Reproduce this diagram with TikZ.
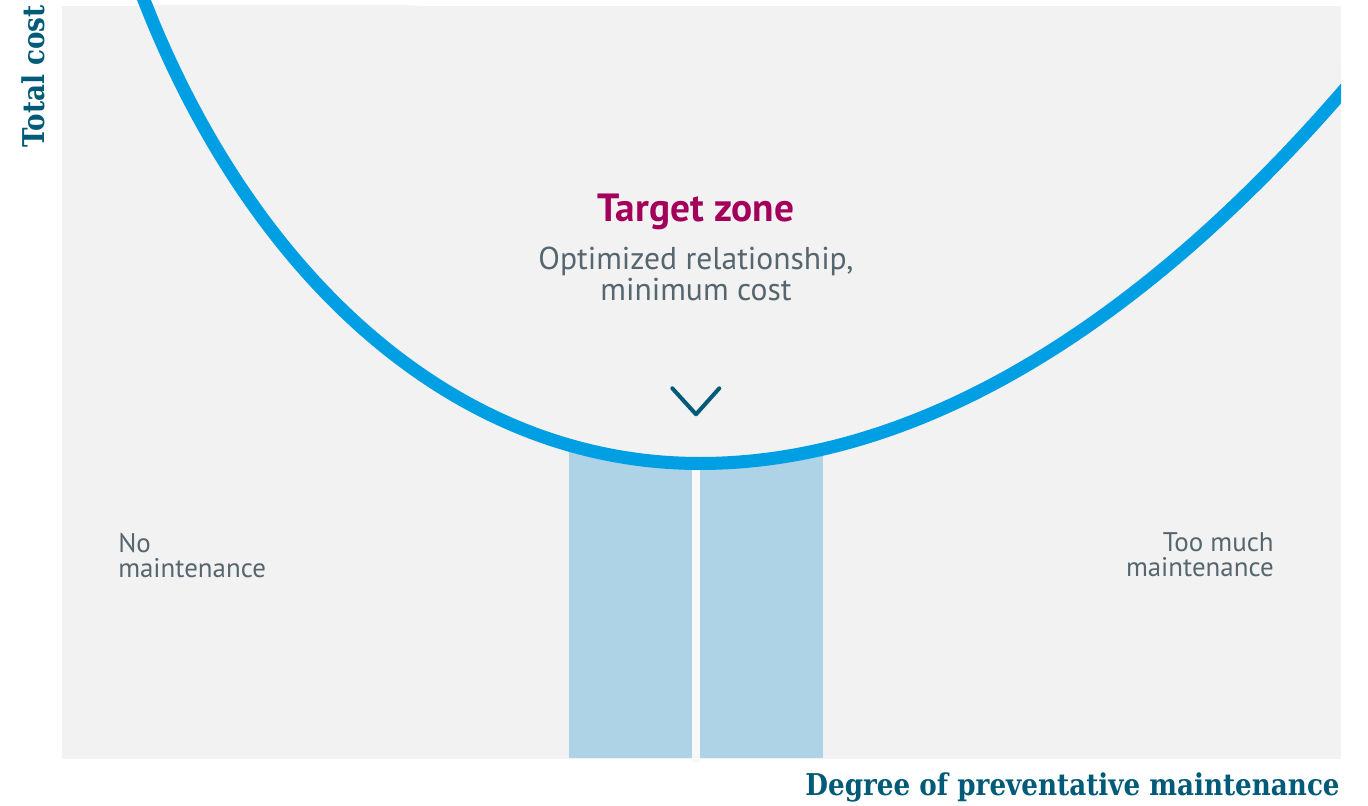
\documentclass[tikz,border=0pt]{standalone}
\usepackage{fontspec}
\setmainfont{PT Sans}
\newfontfamily\slabfont[FakeStretch=0.874]{DejaVu Serif}
\usetikzlibrary{positioning}
\definecolor{curveblue}{HTML}{009FE3}
\definecolor{zoneblue}{HTML}{AED3E6}
\definecolor{panelgray}{HTML}{F2F2F2}
\definecolor{splitgray}{HTML}{F8F8F8}
\definecolor{axisteal}{HTML}{005A78}
\definecolor{textgray}{HTML}{56666F}
\definecolor{targetred}{HTML}{A3005B}

\begin{document}
\begin{tikzpicture}[x=0.75pt, y=-0.75pt, % 1 unit = 1 pixel of the original
  axislabel/.style={font=\slabfont\bfseries\fontsize{22.5}{27}\selectfont, text=axisteal, inner sep=0pt},
  note/.style={font=\fontsize{20.2}{18.8}\selectfont, text=textgray, inner sep=0pt},
  costline/.style={draw=curveblue, line width=9.75pt},
  zonebar/.style={fill=zoneblue}]

\useasboundingbox (0,0) rectangle (1368,806);
\clip (0,0) rectangle (1341,806);

% panel and target zone bars
\fill[panelgray] (62,6) rectangle (1341,759);
\fill[zonebar] (568.7,420) rectangle (692,757.7);
\fill[zonebar] (700,420) rectangle (823,757.7);
\fill[splitgray] (692,460) rectangle (700,763);

% total cost curve
\path[save path=\costpath] (140.1,-10) -- (144,0)
  .. controls (249.3,270) and (450,463.5) .. (700,463.5)
  .. controls (905,463.5) and (1127,340) .. (1341,93.5) -- (1370,60);
\begin{scope}
  \clip (62,6) rectangle (1341,759);
  \fill[panelgray, use path=\costpath];
\end{scope}
\draw[costline, use path=\costpath];

% chevron
\draw[axisteal, line width=3pt, line cap=round, line join=round] (672.3,388.3) -- (696,414.3) -- (719.3,388.3);

% labels
\node[axislabel, rotate=90, anchor=base east] (costlabel) at (45,5) {Total cost};
\node[axislabel, anchor=base east] (degreelabel) at (1340,795) {Degree of preventative maintenance};
\node[font=\bfseries\fontsize{29.5}{32}\selectfont, text=targetred, inner sep=0pt, anchor=base] (target) at (696,222) {Target zone};
\node[note, font=\fontsize{23.7}{23.25}\selectfont, align=center, anchor=north] (optimum) at (696,247) {Optimized relationship,\\minimum cost};
\node[note, align=left, anchor=north west] (nomaint) at (118,533) {No\\maintenance};
\node[note, align=right, anchor=north east] (toomuch) at (1274,532) {Too much\\maintenance};

\end{tikzpicture}
\end{document}
